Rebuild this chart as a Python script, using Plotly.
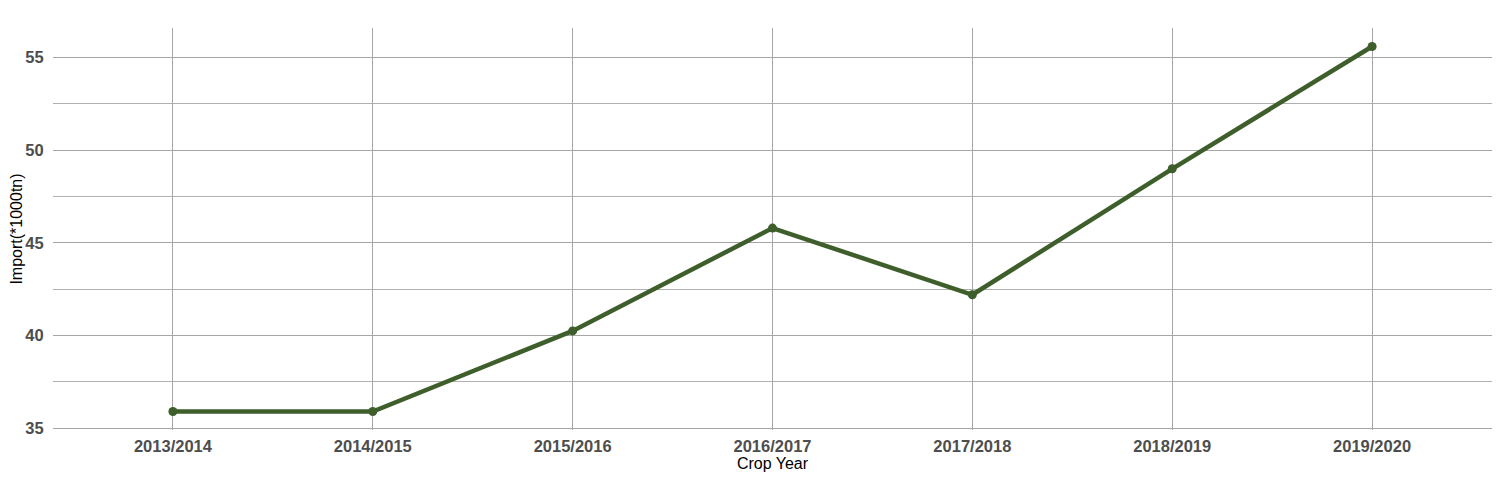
import plotly.graph_objects as go

years = ["2013/2014", "2014/2015", "2015/2016", "2016/2017", "2017/2018", "2018/2019", "2019/2020"]
imports = [35.9, 35.9, 40.25, 45.8, 42.2, 49.0, 55.6]
y_ticks = [35, 40, 45, 50, 55]

fig = go.Figure()
fig.add_trace(go.Scatter(
    x=list(range(len(years))), y=imports, mode="lines+markers",
    line=dict(color="#3e5f2b", width=4.5),
    marker=dict(color="#3e5f2b", size=9),
    showlegend=False,
))

fig.update_layout(
    width=1492, height=492,
    margin=dict(l=45, r=8, t=20, b=70),
    plot_bgcolor="white", paper_bgcolor="white",
    font=dict(family="Liberation Sans, Arial, sans-serif"),
)
fig.update_xaxes(
    range=[-0.6, 6.6], tickmode="array", tickvals=list(range(len(years))), ticktext=years,
    showgrid=True, gridcolor="#a6a6a6", gridwidth=1, zeroline=False, showline=False,
    ticks="outside", ticklen=1, tickcolor="rgba(0,0,0,0)", automargin=False,
    tickfont=dict(size=16.5, color="#4d4d4d", weight="bold"),
    title=dict(text="Crop Year", font=dict(size=16, color="black"), standoff=0),
)
fig.update_yaxes(
    range=[34.9, 56.6], tickmode="array", tickvals=y_ticks,
    showgrid=True, gridcolor="#a6a6a6", gridwidth=1, zeroline=False, showline=False,
    minor=dict(dtick=2.5, tick0=35, showgrid=True, gridcolor="#b0b0b0", gridwidth=1),
    ticks="outside", ticklen=5, tickcolor="rgba(0,0,0,0)", automargin=False,
    tickfont=dict(size=16.5, color="#4d4d4d", weight="bold"),
    title=dict(text="Import(*1000tn)", font=dict(size=16, color="black"), standoff=0),
)

fig.write_html("out.html")
